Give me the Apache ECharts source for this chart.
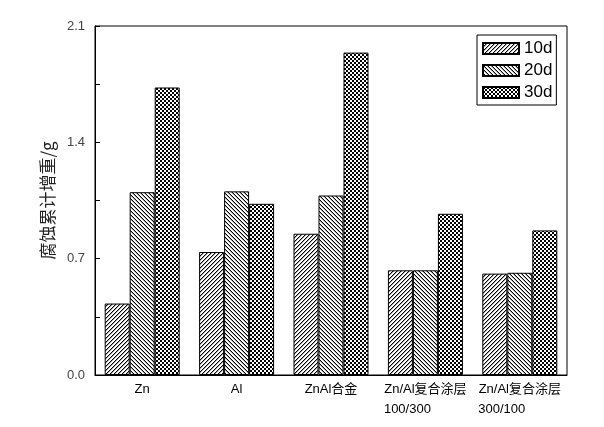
<!DOCTYPE html>
<html>
<head>
<meta charset="utf-8">
<script src="https://cdn.jsdelivr.net/npm/echarts@6/dist/echarts.min.js"></script>
<style>
html,body{margin:0;padding:0;background:#fff;}
#chart{width:604px;height:427px;}
</style>
</head>
<body>
<div id="chart"></div>
<script>
// ---- data ----
const categories = ['Zn', 'Al', 'ZnAl合金', 'Zn/Al复合涂层\n100/300', 'Zn/Al复合涂层\n300/100'];
const seriesNames = ['10d', '20d', '30d'];
const values10d = [0.43, 0.74, 0.85, 0.63, 0.61];
const values20d = [1.10, 1.105, 1.08, 0.63, 0.615];
const values30d = [1.73, 1.03, 1.94, 0.97, 0.87];
const yTickLabels = ['0.0', '0.7', '1.4', '2.1'];

// ---- patterns ----
function makePattern(type) {
  const c = document.createElement('canvas');
  c.width = 4; c.height = 4;
  const ctx = c.getContext('2d');
  ctx.fillStyle = '#fff';
  ctx.fillRect(0, 0, 4, 4);
  if (type === 'fwd') {
    for (let i = 0; i < 4; i++) {
      ctx.fillStyle = '#000'; ctx.fillRect(i, 3 - i, 1, 1);
      ctx.fillStyle = '#aaa'; ctx.fillRect(i, (4 - i) % 4, 1, 1);
    }
  } else if (type === 'back') {
    for (let i = 0; i < 4; i++) {
      ctx.fillStyle = '#000'; ctx.fillRect(i, i, 1, 1);
      ctx.fillStyle = '#aaa'; ctx.fillRect(i, (i + 1) % 4, 1, 1);
    }
  } else {
    ctx.fillStyle = '#000';
    ctx.fillRect(0, 0, 2, 2);
    ctx.fillRect(2, 2, 2, 2);
  }
  return c;
}
const patterns = [makePattern('fwd'), makePattern('back'), makePattern('check')];

// measure label widths for left-aligned second line
const labelFont = '13px "Liberation Sans", "Noto Sans CJK SC", sans-serif';
const mctx = document.createElement('canvas').getContext('2d');
mctx.font = labelFont;

function fmtLabel(v) {
  const parts = v.split('\n');
  if (parts.length === 1) return '{a|' + v + '}';
  const w = Math.ceil(mctx.measureText(parts[0]).width);
  return '{a|' + parts[0] + '}\n{b' + w + '|' + parts[1] + '}';
}
const rich = {
  a: { fontSize: 13, fontFamily: '"Liberation Sans", "Noto Sans CJK SC", sans-serif', color: '#000', lineHeight: 20 }
};
categories.forEach(c => {
  const parts = c.split('\n');
  if (parts.length > 1) {
    const w = Math.ceil(mctx.measureText(parts[0]).width);
    rich['b' + w] = { width: w, align: 'left', fontSize: 13, fontFamily: '"Liberation Sans", sans-serif', color: '#000', lineHeight: 20 };
  }
});

const allValues = [values10d, values20d, values30d];
const chart = echarts.init(document.getElementById('chart'), null, { renderer: 'canvas' });
chart.setOption({
  animation: false,
  backgroundColor: '#fff',
  grid: { left: 95, right: 37, top: 26, bottom: 52, show: true, borderColor: '#000', borderWidth: 1, backgroundColor: 'transparent' },
  legend: {
    orient: 'vertical',
    left: 477, top: 35,
    padding: [5, 4, 4, 5],
    itemGap: 5,
    itemWidth: 36, itemHeight: 11,
    icon: 'rect',
    borderColor: '#000', borderWidth: 1,
    textStyle: { fontSize: 17, fontFamily: '"Liberation Sans", Arial, sans-serif', color: '#000', lineHeight: 16 },
    data: seriesNames
  },
  xAxis: {
    type: 'category',
    data: categories,
    axisLine: { lineStyle: { color: '#000', width: 1 } },
    axisTick: { show: false },
    axisLabel: { margin: 4, formatter: fmtLabel, rich: rich, interval: 0 }
  },
  yAxis: {
    type: 'value',
    min: 0, max: 2.1, interval: 0.35,
    name: '腐蚀累计增重/g',
    nameLocation: 'middle',
    nameGap: 37,
    nameTextStyle: { fontSize: 17, fontFamily: '"Noto Sans CJK SC", sans-serif', color: '#222' },
    axisLine: { show: true, lineStyle: { color: '#000', width: 1 } },
    axisTick: { show: true, inside: true, length: 5, lineStyle: { color: '#000' } },
    splitLine: { show: false },
    axisLabel: {
      margin: 10,
      fontSize: 13,
      fontFamily: '"Liberation Sans", Arial, sans-serif',
      color: '#444',
      formatter: function (v) {
        const s = v.toFixed(1);
        return yTickLabels.indexOf(s) >= 0 ? s : '';
      }
    }
  },
  series: seriesNames.map((n, i) => ({
    name: n,
    type: 'bar',
    data: allValues[i],
    barWidth: 25,
    barGap: '0%',
    itemStyle: { color: { image: patterns[i], repeat: 'repeat' }, borderColor: '#000', borderWidth: 1 }
  }))
});
</script>
</body>
</html>
